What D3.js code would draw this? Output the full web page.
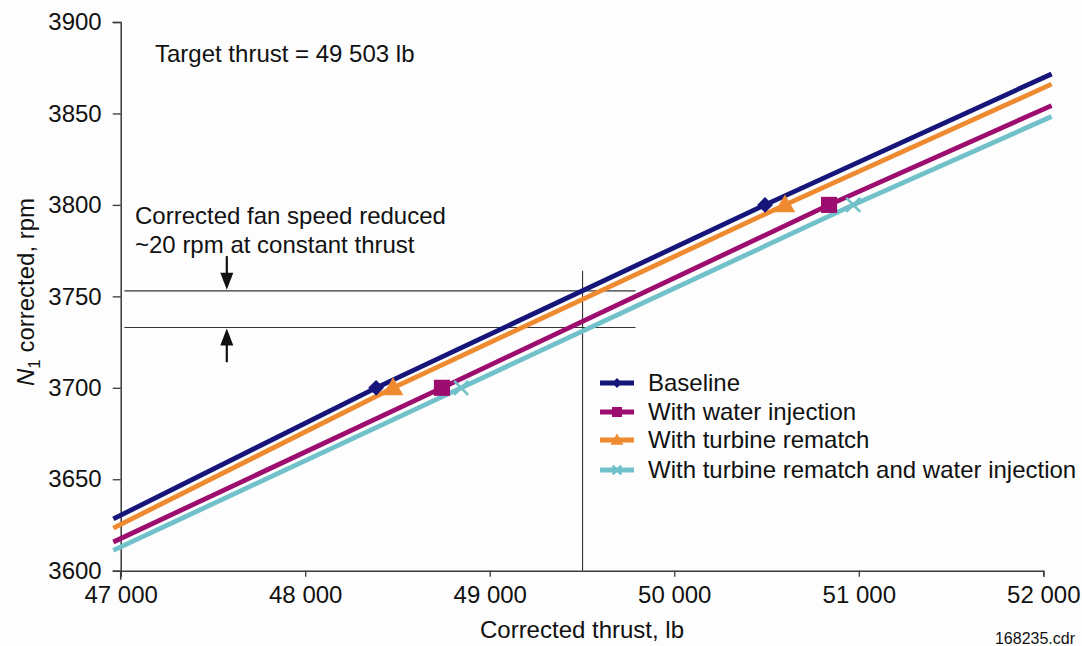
<!DOCTYPE html>
<html>
<head>
<meta charset="utf-8">
<script src="https://cdn.jsdelivr.net/npm/d3@7"></script>
<style>
  html, body { margin: 0; padding: 0; background: #fdfdfd; }
  svg { display: block; }
  text { font-family: "Liberation Sans", Arial, Helvetica, sans-serif; fill: #111; }
</style>
</head>
<body>
<svg id="chart" width="1082" height="646"></svg>
<script>
// ---- data -------------------------------------------------------------
const seriesNames = [
  "Baseline",
  "With water injection",
  "With turbine rematch",
  "With turbine rematch and water injection"
];
// thrust (lb) at each point of the lines: line ends and the two marked points
const baselineThrust   = [46960, 48384, 50492, 52045];
const baselineN1       = [3628.3, 3700, 3800, 3871.6];
const waterThrust      = [46960, 48741, 50839, 52045];
const waterN1          = [3615.7, 3700, 3800, 3854.3];
const rematchThrust    = [46960, 48476, 50600, 52045];
const rematchN1        = [3623.3, 3700, 3800, 3866.0];
const rematchWaterThrust = [46960, 48845, 50970, 52045];
const rematchWaterN1     = [3611.1, 3700, 3800, 3848.3];
// index of points that carry a marker
const markedPoints = [1, 2];

const xTicks = [47000, 48000, 49000, 50000, 51000, 52000];
const yTicks = [3600, 3650, 3700, 3750, 3800, 3850, 3900];

const targetThrust = 49503;
const targetTop = 3764;
const levelLines = [3753, 3733];          // N1 at target thrust, before / after
const levelExtent = [47020, 49790];
const arrowThrust = 47575;
const arrowFrom = [3772, 3714];           // arrow tails, pointing to levelLines

const colors = ["#15157a", "#9c0d6f", "#ee8a2f", "#70c1c9"];
const shapes = ["diamond", "square", "triangle", "x"];

// ---- layout -----------------------------------------------------------
const FS = "24px";
const svg = d3.select("#chart");
const x = d3.scaleLinear().domain([47000, 52000]).range([120.7, 1043.3]);
const y = d3.scaleLinear().domain([3600, 3900]).range([570.7, 22]);

const series = [
  { name: seriesNames[0], t: baselineThrust, n: baselineN1 },
  { name: seriesNames[1], t: waterThrust, n: waterN1 },
  { name: seriesNames[2], t: rematchThrust, n: rematchN1 },
  { name: seriesNames[3], t: rematchWaterThrust, n: rematchWaterN1 }
].map((s, i) => ({ ...s, color: colors[i], shape: shapes[i],
  pts: s.t.map((v, j) => ({ t: v, n: s.n[j], j })) }));

// ---- axes -------------------------------------------------------------
const axisColor = "#3a3a3a";
const yAxis = svg.append("g").attr("transform", `translate(${x(47000)},0)`)
  .call(d3.axisLeft(y).tickValues(yTicks).tickSize(8).tickPadding(11).tickFormat(d3.format("d")));
const xAxis = svg.append("g").attr("transform", `translate(0,${y(3600)})`)
  .call(d3.axisBottom(x).tickValues(xTicks).tickSize(6).tickPadding(9)
    .tickFormat(d => d3.format(",")(d).replace(",", " ")));
[yAxis, xAxis].forEach(a => {
  a.selectAll("path.domain").attr("stroke", axisColor).attr("stroke-width", 1.5);
  a.selectAll(".tick line").attr("stroke", axisColor).attr("stroke-width", 1.3);
  a.selectAll(".tick text").style("font-size", FS)
    .style("font-family", '"Liberation Sans", Arial, sans-serif').attr("fill", "#111");
});
// extend the y-axis line a little below the x-axis
svg.append("line").attr("x1", x(47000)).attr("x2", x(47000))
  .attr("y1", y(3600)).attr("y2", y(3600) + 9).attr("stroke", axisColor).attr("stroke-width", 1.5);

// axis titles
svg.append("text").attr("x", 582).attr("y", 638).attr("text-anchor", "middle")
  .style("font-size", FS).text("Corrected thrust, lb");
const yl = svg.append("text").attr("transform", "translate(34,292) rotate(-90)")
  .attr("text-anchor", "middle").style("font-size", FS);
yl.append("tspan").style("font-style", "italic").text("N");
yl.append("tspan").attr("dy", 6).style("font-size", "17px").text("1");
yl.append("tspan").attr("dy", -6).text(" corrected, rpm");

// ---- annotation lines -------------------------------------------------
const ann = svg.append("g").attr("stroke", "#333").attr("stroke-width", 1.1);
ann.selectAll("line.level").data(levelLines).join("line").attr("class", "level")
  .attr("x1", x(levelExtent[0])).attr("x2", x(levelExtent[1]))
  .attr("y1", d => y(d)).attr("y2", d => y(d));
ann.append("line").attr("x1", x(targetThrust)).attr("x2", x(targetThrust))
  .attr("y1", y(targetTop)).attr("y2", y(3600));

// arrows pointing at the two level lines
const arrowG = svg.append("g");
levelLines.forEach((lv, i) => {
  const tail = y(arrowFrom[i]);
  const dir = i === 0 ? 1 : -1;           // 1 = pointing down
  const tip = y(lv) - dir * 1;
  arrowG.append("line").attr("x1", x(arrowThrust)).attr("x2", x(arrowThrust))
    .attr("y1", tail).attr("y2", tip - dir * 12)
    .attr("stroke", "#111").attr("stroke-width", 2.2);
  arrowG.append("path")
    .attr("transform", `translate(${x(arrowThrust)},${tip})`)
    .attr("d", `M0,0 L-6.5,${-dir * 17} L6.5,${-dir * 17} Z`)
    .attr("fill", "#111");
});

// ---- series -----------------------------------------------------------
const line = d3.line().x(d => x(d.t)).y(d => y(d.n));
const lineG = svg.append("g");
lineG.selectAll("path").data(series).join("path")
  .attr("d", s => line(s.pts)).attr("fill", "none")
  .attr("stroke", s => s.color).attr("stroke-width", 4.8);

function drawMarker(g, shape, color, scale) {
  if (shape === "diamond") {
    g.append("path").attr("d", d3.symbol(d3.symbolSquare, 125 * scale * scale)())
      .attr("transform", "rotate(45)").attr("fill", color);
  } else if (shape === "square") {
    g.append("path").attr("d", d3.symbol(d3.symbolSquare, 260 * scale * scale)()).attr("fill", color);
  } else if (shape === "triangle") {
    g.append("path").attr("d", d3.symbol(d3.symbolTriangle, 185 * scale * scale)())
      .attr("transform", `translate(0,${1.5 * scale})`).attr("fill", color);
  } else {
    const r = 7 * scale;
    g.append("path").attr("d", `M${-r},${-r}L${r},${r}M${-r},${r}L${r},${-r}`)
      .attr("stroke", color).attr("stroke-width", 2.6).attr("fill", "none");
  }
}

series.forEach(s => {
  s.pts.filter(p => markedPoints.includes(p.j)).forEach(p => {
    const g = svg.append("g").attr("transform", `translate(${x(p.t)},${y(p.n)})`);
    drawMarker(g, s.shape, s.color, 1);
  });
});

// ---- legend -----------------------------------------------------------
const legendRows = [383, 412, 440, 470];
const legend = svg.append("g");
series.forEach((s, i) => {
  const g = legend.append("g").attr("transform", `translate(600,${legendRows[i]})`);
  g.append("line").attr("x1", 0).attr("x2", 34).attr("y1", 0).attr("y2", 0)
    .attr("stroke", s.color).attr("stroke-width", 4.8);
  const m = g.append("g").attr("transform", "translate(17,0)");
  drawMarker(m, s.shape, s.color, 0.62);
  g.append("text").attr("x", 48).attr("y", 8).style("font-size", FS).text(s.name);
});

// ---- notes ------------------------------------------------------------
svg.append("text").attr("x", 155).attr("y", 62).style("font-size", FS)
  .text("Target thrust = 49 503 lb");
const note = svg.append("text").style("font-size", FS);
note.append("tspan").attr("x", 135).attr("y", 224).text("Corrected fan speed reduced");
note.append("tspan").attr("x", 135).attr("y", 253).text("~20 rpm at constant thrust");
svg.append("text").attr("x", 1075).attr("y", 644).attr("text-anchor", "end")
  .style("font-size", "16px").text("168235.cdr");
</script>
</body>
</html>
